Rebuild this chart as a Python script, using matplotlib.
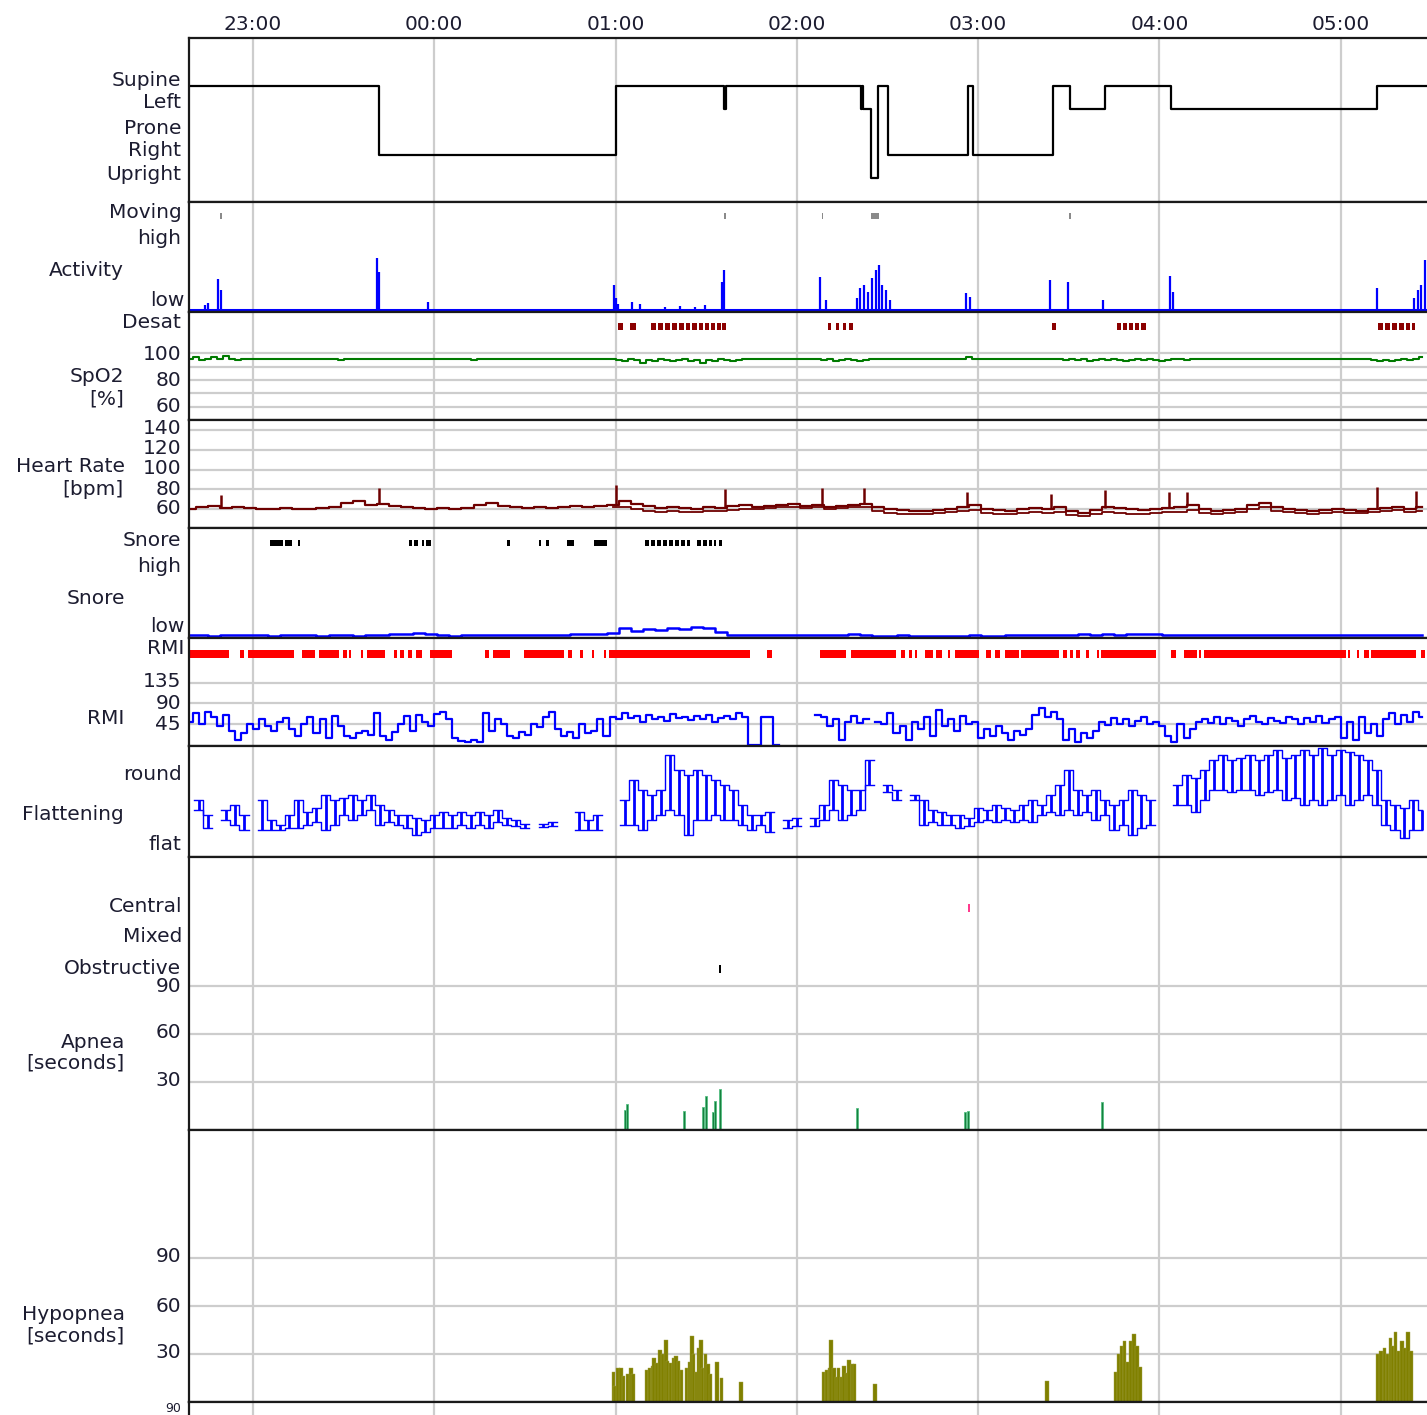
import numpy as np
import matplotlib
matplotlib.use("Agg")
import matplotlib.pyplot as plt
from matplotlib.transforms import blended_transform_factory

nan = np.nan

# ---------------- DATA (time unit: minutes after 22:00) ----------------
hour_ticks = [60, 120, 180, 240, 300, 360, 420]
hour_labels = ["23:00", "00:00", "01:00", "02:00", "03:00", "04:00", "05:00"]

position_names = ["Supine", "Left", "Prone", "Right", "Upright"]
position_times = [38.8, 101.7, 180.1, 216.0, 216.4, 261.4, 261.7, 262.0, 264.4,
                  266.9, 270.2, 296.7, 298.2, 324.8, 330.4, 341.9, 363.9, 432.0, 448.6]
position_states = ["Supine", "Right", "Supine", "Left", "Supine", "Left", "Supine", "Left",
                   "Upright", "Supine", "Right", "Supine", "Right", "Supine", "Left",
                   "Supine", "Left", "Supine", "Supine"]

moving_events = [(49.2, 0.5), (216.0, 0.5), (248.2, 0.5), (264.5, 2.6), (330.2, 0.5)]
activity_times = [44.1, 45.1, 48.4, 49.4, 101.0, 101.7, 117.9, 179.5, 180.1, 180.8, 185.4,
                  188.1, 196.4, 201.3, 206.3, 209.6, 215.2, 215.9, 247.7, 249.7, 259.9,
                  260.9, 262.2, 263.5, 264.9, 266.2, 267.2, 268.2, 269.5, 270.8, 296.0,
                  297.3, 323.8, 329.8, 341.3, 363.5, 364.5, 432.0, 444.3, 445.6, 446.6, 447.9]
activity_vals = [5, 7, 31, 20, 52, 38, 8, 25, 12, 6, 8, 6, 3, 4, 3, 5, 28, 40, 33, 10, 12,
                 22, 25, 18, 32, 40, 45, 25, 20, 10, 17, 13, 30, 28, 10, 34, 18, 22, 12,
                 20, 25, 50]

desat_events = [(180.8, 182.5), (184.8, 186.8), (191.7, 193.4), (194.0, 195.7), (196.4, 198.0),
                (198.7, 200.3), (201.0, 202.6), (203.3, 204.6), (205.3, 206.9), (207.6, 208.9),
                (209.6, 210.9), (211.6, 212.9), (213.6, 214.9), (215.2, 216.5),
                (250.3, 251.3), (252.9, 254.0), (255.3, 256.3), (257.3, 258.6),
                (324.5, 325.8), (345.9, 347.3), (347.9, 349.3), (349.9, 351.2), (351.9, 353.2),
                (353.9, 355.6), (432.4, 434.0), (434.7, 436.4), (437.0, 438.7), (439.3, 441.0),
                (441.7, 443.0), (443.7, 444.6)]

spo2_start, spo2_step = 39.0, 2.0
spo2_vals = [96, 97, 95, 96, 97, 96, 98, 96, 95, 96, 96,
             96, 96, 96, 96, 96, 96, 96, 96, 96, 96,
             96, 96, 96, 96, 95, 96, 96, 96, 96, 96,
             96, 96, 96, 96, 96, 96, 96, 96, 96, 96,
             96, 96, 96, 96, 96, 96, 95, 96, 96, 96,
             96, 96, 96, 96, 96, 96, 96, 96, 96, 96,
             96, 96, 96, 96, 96, 96, 96, 96, 96, 96,
             95, 94, 96, 95, 93, 95, 94, 96, 95, 94, 95, 96, 94, 95, 93, 95, 94, 96, 95, 94, 95, 96,
             96, 96, 96, 96, 96, 96, 96, 96, 96, 96, 96, 96,
             95, 96, 94, 95, 96, 95, 94, 95, 96,
             96, 96, 96, 96, 96, 96, 96, 96, 96, 96, 96, 96, 96, 96, 96,
             97,
             96, 96, 96, 96, 96, 96, 96, 96, 96, 96, 96, 96, 96, 96,
             96, 95, 96, 95, 96, 94, 95, 96, 95, 96, 95, 94, 95, 96, 95, 96, 95, 94, 95, 96, 96, 95,
             96, 96, 96, 96, 96, 96, 96, 96, 96, 96, 96, 96, 96, 96, 96,
             96, 96, 96, 96, 96, 96, 96, 96, 96, 96, 96, 96, 96, 96, 96,
             95, 94, 95, 94, 95, 96, 95, 96, 97]

hr_start, hr_step = 39.0, 4.0
hr_vals = [60, 62, 63, 61, 62, 61,
           60, 60, 61, 60, 60, 61,
           62, 66, 68, 64, 65, 63,
           62, 61, 60, 61, 60, 61,
           64, 66, 63, 62,
           61, 62, 61, 62, 63, 62, 63, 64,
           68, 65, 63, 61, 62, 61, 60,
           62, 61, 63, 64, 62, 63, 64, 65,
           63, 64, 62, 63, 64, 65,
           62, 60, 59, 58, 58, 59, 60, 62,
           64, 60, 59, 58, 60, 61, 60,
           62, 58, 56, 59,
           62, 61, 60, 59, 60, 61, 62, 64,
           60, 58, 59, 60, 64, 66, 62, 60,
           59, 58, 59, 60, 59, 58, 60, 61, 62, 60, 62]
hr2_start = 179.0
hr2_vals = [62, 62, 60, 58, 57, 58, 57, 57,
            58, 58, 59, 60, 60, 61, 62, 62,
            61, 62, 60, 61, 62, 62,
            58, 56, 55, 55, 55, 56, 57, 58,
            59, 56, 55, 55, 56, 57, 56,
            57, 54, 53, 55,
            57, 56, 55, 55, 56, 57, 57, 59,
            56, 55, 56, 57, 60, 62, 58, 57,
            56, 55, 56, 57, 56, 56, 57, 58, 59, 57, 58]
hr_spike_times = [49.4, 101.7, 180.1, 216.2, 248.4, 262.2, 296.3, 324.1, 341.9, 363.2, 369.2, 432.0, 444.9]
hr_spike_vals = [74, 81, 84, 80, 81, 81, 77, 75, 79, 77, 77, 82, 78]

snore_events = [(65.6, 69.9), (70.6, 72.9), (74.9, 75.6), (111.6, 112.6), (113.3, 114.6),
                (115.9, 116.6), (117.3, 118.9), (144.1, 145.1), (154.7, 155.3), (157.0, 158.0),
                (163.9, 166.2), (172.9, 177.2), (189.7, 191.1), (191.7, 193.0), (193.7, 195.0),
                (195.7, 197.0), (197.7, 199.0), (199.7, 201.0), (201.7, 203.0), (203.6, 204.6),
                (206.9, 208.3), (208.9, 210.3), (210.9, 211.9), (212.6, 213.3), (214.2, 215.2)]
snore_start, snore_step = 39.0, 4.0
snore_vals = [1, 1, 0.5, 1, 1, 1.5, 1, 0.5, 1, 1, 1, 0.5,
              1, 1, 0.5, 1, 1,
              2, 2.5, 3,
              2, 1,
              0.5, 1, 1, 1.5, 1, 1,
              1, 1.5, 1, 1.5, 2, 2,
              2.5, 3,
              8, 5, 7, 6, 8, 7, 9, 8, 4,
              1, 1, 1.5, 1, 1, 1,
              1, 1, 1.5, 1.5, 2, 1,
              0.5, 0.5, 1, 0.5, 0.5,
              0.5, 0.5, 0.5, 1, 0.5, 0.5, 1, 1, 1,
              1.5, 1, 1.5, 2, 1.5, 2, 1.5, 2, 2.5, 2, 1.5, 1, 1,
              1, 1, 1.5, 1, 1, 1.5, 1, 1, 1, 1, 1.5, 1, 1, 1, 1.5, 1, 1, 1, 1.5]

rmi_events = [(38.8, 52.0), (55.7, 57.0), (58.3, 73.6), (76.2, 80.5), (81.8, 88.5), (89.8, 91.1),
              (91.8, 92.4), (95.7, 96.4), (97.7, 103.7), (106.7, 107.7), (108.6, 110.0),
              (111.3, 112.6), (114.0, 115.9), (118.6, 125.9), (136.8, 138.1), (139.4, 145.1),
              (149.7, 163.0), (164.3, 165.6), (168.2, 169.2), (172.2, 172.9), (176.2, 176.8),
              (177.8, 224.5), (230.1, 231.8), (247.7, 256.3), (257.9, 272.8), (274.5, 275.8),
              (277.1, 278.1), (279.1, 279.8), (282.4, 285.1), (286.1, 288.0), (290.0, 290.7),
              (292.4, 300.3), (302.6, 304.3), (305.6, 307.3), (308.9, 313.5), (314.2, 326.8),
              (328.1, 329.4), (330.4, 331.4), (332.4, 333.7), (335.7, 336.7), (339.4, 340.0),
              (340.7, 358.9), (363.9, 365.5), (368.2, 372.5), (373.1, 373.8), (374.8, 421.8),
              (422.4, 423.1), (425.4, 426.1), (427.7, 429.4), (430.0, 444.9), (446.6, 447.9)]
rmi_start, rmi_step = 39.0, 2.0
rmi_vals = [50, 70, 45, 72, 60, 40, 65,
            30, 10, 25,
            45, 35, 55, 40, 30, 50, 58, 35, 20, 45,
            60, 25, 55, 15, 62, 40,
            20, 15, 25, 30, 22,
            70,
            20, 10, 28,
            45, 62, 30, 65, 50, 40,
            68, 72, 55,
            15, 8, 5, 10, 6,
            70, 30, 55, 45,
            20, 15, 28, 22,
            45, 38, 60, 72, 35,
            20, 28, 15, 45, 25, 30, 55, 20,
            60, 55, 70, 58, 62, 50, 65, 55, 60, 52, 66, 58, 60, 54, 62, 57, 65, 50, 58, 62, 55, 70, 60,
            0, 0, 60, 60, 0,
            nan, nan, nan, nan, nan, nan,
            65, 60, 40, 55, 10, 50, 62, 48, 55,
            nan, 50,
            45, 70, 25, 40, 10, 50, 35, 60,
            20, 75, 40, 55, 30, 62, 45, 50,
            15, 35, 20, 40, 25, 10, 30, 22, 35,
            65, 80, 60, 72, 55,
            10, 35, 5, 25, 15, 30,
            50, 42, 58, 45, 55, 40, 52, 60, 45, 50, 40,
            20, 5, 45, 15, 35, 50,
            55, 48, 60, 45, 58, 52, 40, 55, 62, 50, 45, 58, 52, 48, 60, 55, 45, 58, 50, 62, 48, 55, 60,
            15, 50, 10, 60, 25, 45, 20,
            55, 70, 45, 65, 50, 72, 60]

flat_start, flat_step = 39.0, 3.0
flat_hi = [nan, 66, 44, nan, 51, 59, 44, nan, 66, 37,
           30, 44, 66, 49, 54, 73, 66, 69, 73, 66,
           73, 59, 51, 44, 44, 40, 37, 44, 49, 44,
           49, 44, 49, 44, 51, 40, 37, 31, nan, 31,
           34, nan, nan, 49, 37, 44, nan, nan, 66, 94,
           80, 73, 80, 130, 109, 101, 109, 101, 94, 87,
           80, 59, 44, 44, 49, nan, 37, 40, nan, 40,
           59, 94, 87, 80, 80, 123, nan, 87, 80, nan,
           73, 66, 51, 49, 44, 44, 40, 54, 51, 59,
           54, 51, 59, 66, 59, 73, 87, 109, 80, 73,
           80, 66, 59, 66, 80, 73, 66, nan, nan, 87,
           101, 97, 109, 123, 130, 123, 126, 130, 123, 130,
           137, 126, 130, 137, 130, 140, 130, 137, 134, 130,
           123, 109, 66, 59, 54, 66, 51]
flat_lo = [nan, 51, 26, nan, 37, 30, 23, nan, 23, 23,
           23, 26, 26, 30, 34, 23, 30, 44, 37, 44,
           51, 30, 34, 30, 26, 16, 20, 26, 26, 26,
           30, 26, 30, 26, 34, 30, 29, 26, nan, 27,
           29, nan, nan, 23, 23, 23, nan, nan, 30, 30,
           23, 37, 44, 51, 44, 16, 37, 37, 44, 37,
           37, 30, 23, 30, 20, nan, 26, 29, nan, 29,
           37, 51, 37, 44, 51, 87, nan, 77, 66, nan,
           66, 30, 34, 30, 30, 26, 29, 34, 37, 34,
           37, 34, 37, 34, 44, 49, 44, 51, 44, 49,
           37, 44, 23, 30, 16, 26, 30, nan, nan, 59,
           59, 49, 66, 80, 80, 77, 80, 80, 73, 77,
           80, 66, 69, 59, 66, 59, 66, 73, 59, 66,
           73, 59, 30, 23, 11, 23, 23]

central_times = [297.0]
mixed_times = []
obstructive_times = [214.6]
apnea_times = [183.1, 183.8, 202.6, 209.1, 209.9, 212.3, 212.9, 214.6, 259.9, 295.7, 296.7, 341.0]
apnea_secs = [12.5, 16, 12, 14.5, 21, 11, 18, 25.6, 14, 11, 12, 17.5]

hypopnea_times = [179.2, 179.8, 180.8, 181.8, 182.5, 184.1, 185.1, 185.8,
                  190.2, 191.1, 192.1, 192.7, 193.7, 194.7, 195.7, 196.7, 197.3, 198.3, 199.2,
                  200.0, 200.8, 201.7, 203.6, 204.5, 205.3, 205.9, 206.8, 207.6, 208.3, 208.9,
                  209.9, 210.6, 211.3, 213.6, 215.2, 221.5,
                  248.7, 249.7, 250.7, 251.3, 252.3, 253.1, 253.9, 254.9, 255.6, 256.6, 257.3,
                  258.3, 259.1, 265.9, 322.8,
                  345.6, 346.6, 347.6, 348.6, 349.6, 350.6, 351.6, 352.6, 353.6,
                  432.4, 433.4, 434.4, 435.4, 436.4, 437.3, 438.3, 439.3, 440.3, 441.3, 442.3, 443.3]
hypopnea_secs = [19, 10, 21, 21, 16, 17.5, 21, 17.5,
                 20, 21, 22.5, 27.5, 24.6, 32.5, 30, 38.8, 25.6, 24.4, 27.5,
                 29, 25.6, 20, 21, 25, 41.2, 30, 18.5, 34, 38.8, 21,
                 30, 23.8, 17.5, 25, 14.8, 12.5,
                 19, 20, 21, 38.8, 21, 15.6, 21, 15.6, 22.5, 18, 26,
                 23.8, 24, 11, 13,
                 19, 30, 35, 38, 25, 38, 42.5, 35, 22,
                 30, 32, 34, 30, 40, 35, 44, 32, 38, 34, 44, 32]

# ---------------- LAYOUT ----------------
W, H, DPI = 1427, 1415, 100
L_PX, R_PX = 189, 1427
X0, X1 = 38.8, 448.6
FS = 14.5
TXT = "#1c1c30"
GRID = "#cdcdcd"

plt.rcParams["font.family"] = ["DejaVu Sans"]
fig = plt.figure(figsize=(W / DPI, H / DPI), dpi=DPI)
fig.patch.set_facecolor("white")


def make_ax(top, bottom, ylim, hgrid=()):
    ax = fig.add_axes([L_PX / W, 1 - bottom / H, (R_PX - L_PX) / W, (bottom - top) / H])
    ax.set_xlim(X0, X1)
    ax.set_ylim(*ylim)
    ax.set_xticks([])
    ax.set_yticks([])
    for s in ("left", "top", "bottom"):
        ax.spines[s].set_linewidth(1.6)
        ax.spines[s].set_color("#1a1a1a")
    ax.spines["right"].set_visible(False)
    for t in hour_ticks:
        ax.axvline(t, color=GRID, lw=1.6, zorder=0)
    for g in hgrid:
        ax.axhline(g, color=GRID, lw=1.6, zorder=0)
    return ax


def label(text, right_px, y_px, fs=FS, **kw):
    fig.text(right_px / W, 1 - y_px / H, text, ha="right", va="center",
             fontsize=fs, color=TXT, **kw)


def series_t(start, step, vals):
    return start + step * np.arange(len(vals))


# --- Position ---
ax = make_ax(38, 202, (5.043, -2.087))
lvl = [position_names.index(s) for s in position_states]
ax.plot(position_times, lvl, drawstyle="steps-post", color="black", lw=1.6)
tr = blended_transform_factory(ax.transData, ax.transAxes)
for t, s in zip(hour_ticks, hour_labels):
    ax.text(t, 1 + 14 / 164, s, transform=tr, ha="center", va="center", fontsize=FS, color=TXT)
for s, y in zip(position_names, [80, 103, 128, 150, 174]):
    label(s, 181, y)

# --- Activity ---
ax = make_ax(202, 312, (-2, 108))
ax.broken_barh(moving_events, (91, 6), facecolors="#8a8a8a")
ax.vlines(activity_times, 0, activity_vals, color="#0000ff", lw=1.6)
ax.plot([X0, X1], [0, 0], color="#0000ff", lw=2.2)
label("Moving", 182, 212)
label("high", 181, 238)
label("Activity", 124, 270)
label("low", 184, 300)

# --- Desat / SpO2 ---
ax = make_ax(312, 420, (50, 131), hgrid=(60, 70, 80, 90, 100))
ax.broken_barh([(a, b - a) for a, b in desat_events], (117.2, 5.2), facecolors="#8b0000")
ax.plot(series_t(spo2_start, spo2_step, spo2_vals), spo2_vals, drawstyle="steps-mid",
        color="#007a00", lw=1.5)
label("Desat", 181, 322)
for s, y in zip(["100", "80", "60"], [355, 381, 407]):
    label(s, 181, y)
label("SpO2", 124, 377)
label("[%]", 124, 399)

# --- Heart rate ---
ax = make_ax(420, 528, (40.8, 150.1), hgrid=(60, 80, 100, 120, 140))
hr_t = series_t(hr_start, hr_step, hr_vals)
ax.plot(series_t(hr2_start, hr_step, hr2_vals), hr2_vals, drawstyle="steps-mid",
        color="#6e0000", lw=1.3)
ax.plot(hr_t, hr_vals, drawstyle="steps-mid", color="#6e0000", lw=1.6)
base = np.interp(hr_spike_times, hr_t, hr_vals)
ax.vlines(hr_spike_times, base, hr_spike_vals, color="#6e0000", lw=1.8)
for s, y in zip(["140", "120", "100", "80", "60"], [428, 448, 468, 489, 509]):
    label(s, 181, y)
label("Heart Rate", 125, 467)
label("[bpm]", 124, 489)

# --- Snore ---
ax = make_ax(528, 638, (-2, 108))
ax.broken_barh([(a, b - a) for a, b in snore_events], (90, 6), facecolors="black")
ax.plot(series_t(snore_start, snore_step, snore_vals), snore_vals, drawstyle="steps-mid",
        color="#0000ff", lw=1.8)
label("Snore", 181, 541)
label("high", 181, 566)
label("Snore", 125, 599)
label("low", 184, 627)

# --- RMI ---
ax = make_ax(638, 746, (-2.8, 232.6), hgrid=(45, 90, 135))
ax.broken_barh([(a, b - a) for a, b in rmi_events], (189, 18), facecolors="#ff0000")
ax.plot(series_t(rmi_start, rmi_step, rmi_vals), rmi_vals, drawstyle="steps-mid",
        color="#0000ff", lw=1.6)
label("RMI", 184, 649)
for s, y in zip(["135", "90", "45"], [681, 703, 724]):
    label(s, 181, y)
label("RMI", 124, 719)

# --- Flattening ---
ax = make_ax(746, 857, (-15.7, 142.9))
ft = series_t(flat_start, flat_step, flat_hi)
ax.vlines(ft, flat_lo, flat_hi, color="#0000ff", lw=2.0)
ax.plot(ft, flat_hi, drawstyle="steps-mid", color="#0000ff", lw=1.0)
ax.plot(ft, flat_lo, drawstyle="steps-mid", color="#0000ff", lw=1.0)
label("round", 182, 775)
label("Flattening", 124, 815)
label("flat", 181, 845)

# --- Apnea ---
ax = make_ax(857, 1130, (0, 170.6), hgrid=(30, 60, 90))
ax.broken_barh([(t - 0.25, 0.5) for t in central_times], (136.5, 5), facecolors="#ff3b8d")
ax.broken_barh([(t - 0.25, 0.5) for t in mixed_times], (117.5, 5), facecolors="#555555")
ax.broken_barh([(t - 0.25, 0.5) for t in obstructive_times], (98, 5), facecolors="black")
ax.bar(apnea_times, apnea_secs, width=0.65, color="#17813f", edgecolor="#55c083", lw=0.6)
label("Central", 182, 907)
label("Mixed", 182, 937)
label("Obstructive", 181, 968)
for s, y in zip(["90", "60", "30"], [986, 1033, 1081]):
    label(s, 181, y)
label("Apnea", 125, 1042)
label("[seconds]", 124, 1063)

# --- Hypopnea ---
ax = make_ax(1130, 1402, (0, 170), hgrid=(30, 60, 90))
ax.bar(hypopnea_times, hypopnea_secs, width=1.05, color="#808000", edgecolor="#a2a244", lw=0.3)
for s, y in zip(["90", "60", "30"], [1257, 1306, 1353]):
    label(s, 181, y)
label("Hypopnea", 125, 1314)
label("[seconds]", 124, 1336)

# --- next (cut off) panel ---
ax = make_ax(1402, 1530, (0, 170))
label("90", 181, 1409, fs=9)

fig.savefig("out.png", dpi=DPI, facecolor="white")
